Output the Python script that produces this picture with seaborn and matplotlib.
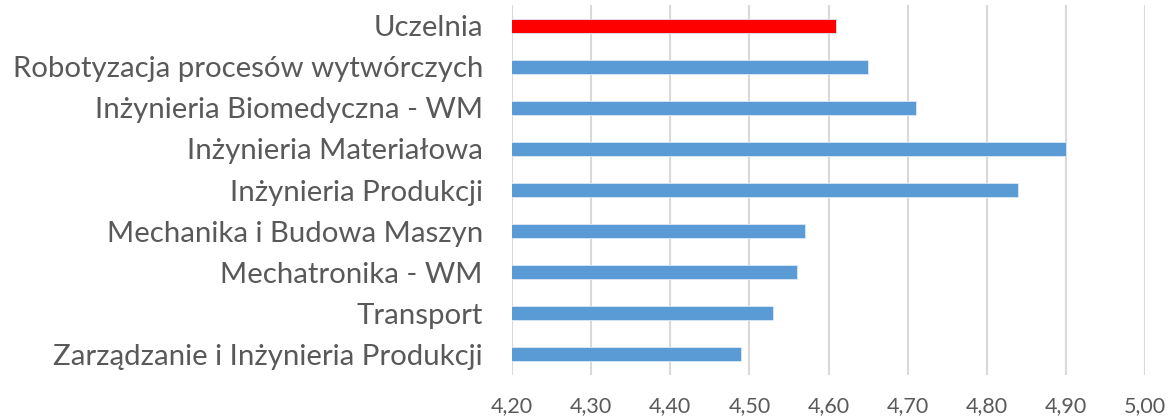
import matplotlib
matplotlib.use("Agg")
import matplotlib.pyplot as plt
import seaborn as sns
import pandas as pd
from matplotlib.ticker import FuncFormatter, MultipleLocator

kierunki = ["Uczelnia",
            "Robotyzacja procesów wytwórczych",
            "Inżynieria Biomedyczna - WM",
            "Inżynieria Materiałowa",
            "Inżynieria Produkcji",
            "Mechanika i Budowa Maszyn",
            "Mechatronika - WM",
            "Transport",
            "Zarządzanie i Inżynieria Produkcji"]
oceny = [4.61, 4.65, 4.71, 4.90, 4.84, 4.57, 4.56, 4.53, 4.49]
kolory = ["#FF0000"] + ["#5B9BD5"] * 8

df = pd.DataFrame({"kierunek": kierunki, "ocena": oceny})

sns.set_style("white")
plt.rcParams['font.family'] = ['Lato', 'DejaVu Sans']
szary = "#595959"

fig = plt.figure(figsize=(11.68, 4.18), dpi=100)
ax = fig.add_axes([0.4384, 0.1029, 0.9803 - 0.4384, 0.988 - 0.1029])

sns.barplot(data=df, x="ocena", y="kierunek", hue="kierunek",
            palette=dict(zip(kierunki, kolory)), legend=False, saturation=1,
            orient="h", width=0.34, edgecolor="#dce8f5", linewidth=0.6,
            ax=ax, zorder=3)

ax.set_xlim(4.2, 5.0)
ax.set_ylim(8.5, -0.5)
ax.xaxis.set_major_locator(MultipleLocator(0.1))
ax.xaxis.set_major_formatter(FuncFormatter(lambda v, p: f"{v:.2f}".replace(".", ",")))
ax.grid(axis="x", color="#d9d9d9", linewidth=1.5, zorder=0)
ax.grid(axis="y", visible=False)
for s in ax.spines.values():
    s.set_visible(False)

ax.set_xlabel("")
ax.set_ylabel("")
ax.tick_params(axis="y", length=0, pad=21, labelsize=21.2, labelcolor=szary)
ax.tick_params(axis="x", length=0, pad=15, labelsize=15.5, labelcolor=szary)

fig.savefig("out.png", dpi=100)
